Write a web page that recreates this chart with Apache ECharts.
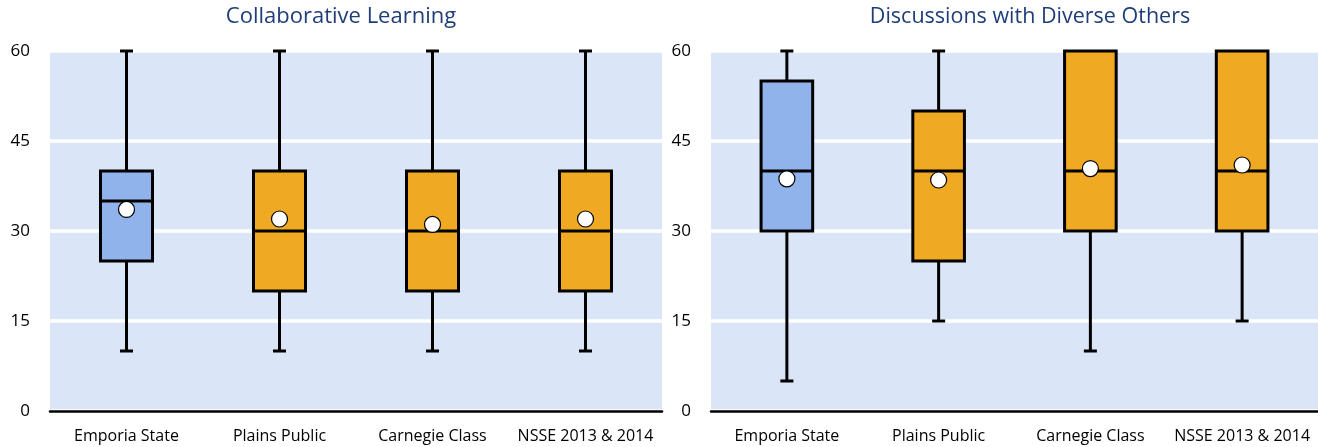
<!DOCTYPE html>
<html>
<head>
<meta charset="utf-8">
<script src="https://cdn.jsdelivr.net/npm/echarts@6/dist/echarts.min.js"></script>
<style>
  html, body { margin: 0; padding: 0; background: #fff; }
  #chart { width: 1318px; height: 447px; }
</style>
</head>
<body>
<div id="chart"></div>
<script>
const categories = ['Emporia State', 'Plains Public', 'Carnegie Class', 'NSSE 2013 & 2014']
const titles = ['Collaborative Learning', 'Discussions with Diverse Others']
const yTicks = [0, 15, 30, 45, 60]

// [min, q1, median, q3, max] per category
const collabBoxes = [
  [10, 25, 35, 40, 60],
  [10, 20, 30, 40, 60],
  [10, 20, 30, 40, 60],
  [10, 20, 30, 40, 60]
]
const collabMeans = [33.6, 32.0, 31.1, 32.0]

const diverseBoxes = [
  [5, 30, 40, 55, 60],
  [15, 25, 40, 50, 60],
  [10, 30, 40, 60, 60],
  [15, 30, 40, 60, 60]
]
const diverseMeans = [38.7, 38.5, 40.4, 41.0]

const boxColors = ['#8fb3ea', '#f0a922', '#f0a922', '#f0a922']

const chart = echarts.init(document.getElementById('chart'))

const renderBox = (params, api) => {
  const i = api.value(0)
  const vals = [api.value(1), api.value(2), api.value(3), api.value(4), api.value(5)]
  const pts = vals.map(v => api.coord([i, v]))
  const x = pts[0][0]
  const bw = api.size([1, 0])[0] * 0.34
  const cap = 13
  const lineStyle = { stroke: '#000', lineWidth: 3 }
  const children = []
  // lower whisker
  if (vals[0] < vals[1]) {
    children.push({ type: 'line', shape: { x1: x, y1: pts[0][1], x2: x, y2: pts[1][1] }, style: lineStyle })
    children.push({ type: 'line', shape: { x1: x - cap / 2, y1: pts[0][1], x2: x + cap / 2, y2: pts[0][1] }, style: lineStyle })
  }
  // upper whisker
  if (vals[4] > vals[3]) {
    children.push({ type: 'line', shape: { x1: x, y1: pts[3][1], x2: x, y2: pts[4][1] }, style: lineStyle })
    children.push({ type: 'line', shape: { x1: x - cap / 2, y1: pts[4][1], x2: x + cap / 2, y2: pts[4][1] }, style: lineStyle })
  }
  children.push({
    type: 'rect',
    shape: { x: x - bw / 2, y: pts[3][1], width: bw, height: pts[1][1] - pts[3][1] },
    style: { fill: boxColors[i], stroke: '#000', lineWidth: 3 }
  })
  children.push({ type: 'line', shape: { x1: x - bw / 2, y1: pts[2][1], x2: x + bw / 2, y2: pts[2][1] }, style: lineStyle })
  return { type: 'group', children }
}

const grids = [
  { left: 50, top: 51, width: 612, height: 360 },
  { left: 711, top: 51, width: 607, height: 360 }
]

const font = '"Open Sans", "Noto Sans", sans-serif'

const option = {
  animation: false,
  title: [
    { text: titles[0], left: 341, top: 6, textAlign: 'center', padding: 0,
      textStyle: { fontFamily: font, fontSize: 22, fontWeight: 'normal', color: '#1f3e78' } },
    { text: titles[1], left: 1030, top: 6, textAlign: 'center', padding: 0,
      textStyle: { fontFamily: font, fontSize: 21.5, fontWeight: 'normal', color: '#1f3e78' } }
  ],
  grid: grids.map(g => ({ ...g, show: true, backgroundColor: '#dae5f7', borderWidth: 0 })),
  xAxis: [0, 1].map(k => ({
    type: 'category',
    gridIndex: k,
    data: categories,
    axisLine: { lineStyle: { color: '#000', width: 2.5 } },
    axisTick: { show: false },
    axisLabel: { margin: 17, fontFamily: font, fontSize: 16, color: '#000', interval: 0 }
  })),
  yAxis: [0, 1].map(k => ({
    type: 'value',
    gridIndex: k,
    min: yTicks[0],
    max: yTicks[yTicks.length - 1],
    interval: 15,
    axisLine: { show: false },
    axisTick: { show: false },
    axisLabel: { margin: 20, fontFamily: font, fontSize: 17, color: '#000' },
    splitLine: { lineStyle: { color: '#fff', width: 3.5 } }
  })),
  series: [
    {
      type: 'custom', xAxisIndex: 0, yAxisIndex: 0, z: 3,
      renderItem: renderBox,
      data: collabBoxes.map((b, i) => [i, ...b])
    },
    {
      type: 'custom', xAxisIndex: 1, yAxisIndex: 1, z: 3,
      renderItem: renderBox,
      data: diverseBoxes.map((b, i) => [i, ...b])
    },
    {
      type: 'scatter', xAxisIndex: 0, yAxisIndex: 0, z: 5,
      symbol: 'circle', symbolSize: 16,
      itemStyle: { color: '#fff', borderColor: '#000', borderWidth: 1.2, opacity: 1 },
      data: collabMeans.map((m, i) => [i, m])
    },
    {
      type: 'scatter', xAxisIndex: 1, yAxisIndex: 1, z: 5,
      symbol: 'circle', symbolSize: 16,
      itemStyle: { color: '#fff', borderColor: '#000', borderWidth: 1.2, opacity: 1 },
      data: diverseMeans.map((m, i) => [i, m])
    }
  ]
}

chart.setOption(option)
</script>
</body>
</html>
